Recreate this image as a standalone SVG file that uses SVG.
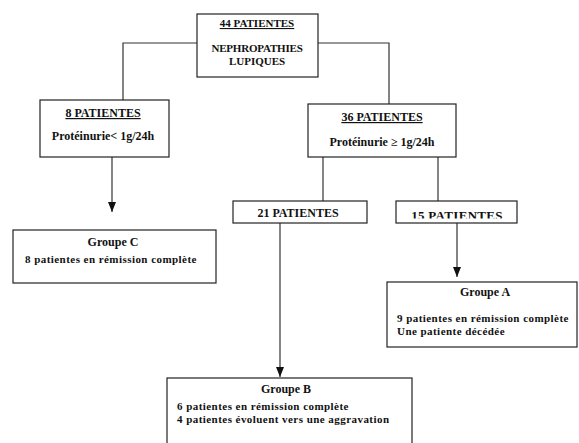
<svg xmlns="http://www.w3.org/2000/svg" width="579" height="443" viewBox="0 0 579 443">
<style>
.box{fill:#fff;stroke:#222;stroke-width:1.2}
.ln{fill:none;stroke:#333;stroke-width:1.2}
.t{font-family:'Liberation Serif','Times New Roman','DejaVu Serif',serif;font-weight:bold;font-size:12px;fill:#111}
.s{font-size:11px}
.d{font-size:11px;letter-spacing:0.45px}
.l{font-size:13px}
.c{text-anchor:middle}
.u{text-decoration:underline}
</style>
<defs>
<marker id="arr" markerWidth="10" markerHeight="8" refX="10" refY="4" orient="auto" markerUnits="userSpaceOnUse" viewBox="0 0 10 8">
<path d="M0,0 L10,4 L0,8 Z" fill="#111"/>
</marker>
<clipPath id="clip15"><rect x="396" y="201" width="121" height="17.5"/></clipPath>
</defs>
<rect width="579" height="443" fill="#fff"/>
<g id="connectors">
<path class="ln" d="M197,43 H123 V100"/>
<path class="ln" d="M318,43 H389 V104"/>
<path class="ln" d="M112,157 V212" marker-end="url(#arr)"/>
<path class="ln" d="M323,157 V201"/>
<path class="ln" d="M438,157 V201"/>
<path class="ln" d="M280,223 V377" marker-end="url(#arr)"/>
<path class="ln" d="M457,223 V277" marker-end="url(#arr)"/>
</g>
<g id="n44">
<rect class="box" x="197" y="14" width="121" height="63"/>
<text class="t s c u" x="257" y="27">44 PATIENTES</text>
<text class="t s c" x="257" y="52" letter-spacing="-0.2">NEPHROPATHIES</text>
<text class="t s c" x="257" y="64.5">LUPIQUES</text>
</g>
<g id="n8">
<rect class="box" x="40" y="100" width="129" height="57"/>
<text class="t c u" x="103" y="117">8 PATIENTES</text>
<text class="t c" x="103" y="140">Protéinurie&lt; 1g/24h</text>
</g>
<g id="n36">
<rect class="box" x="308" y="104" width="148" height="53"/>
<text class="t c u" x="382" y="121">36 PATIENTES</text>
<text class="t c" x="382" y="146">Protéinurie ≥ 1g/24h</text>
</g>
<g id="n21">
<rect class="box" x="233" y="201" width="134" height="22"/>
<text class="t c" x="298" y="217" font-size="12.5">21 PATIENTES</text>
</g>
<g id="n15">
<rect class="box" x="396" y="201" width="121" height="22"/>
<text class="t l c" x="457" y="220" letter-spacing="0.3" clip-path="url(#clip15)">15 PATIENTES</text>
</g>
<g id="groupeC">
<rect class="box" x="13" y="230" width="203" height="53"/>
<text class="t c" x="113" y="246">Groupe C</text>
<text class="t d" x="25" y="263">8 patientes en rémission complète</text>
</g>
<g id="groupeA">
<rect class="box" x="387" y="282" width="190" height="65"/>
<text class="t c" x="485" y="296">Groupe A</text>
<text class="t d" x="397" y="322">9 patientes en rémission complète</text>
<text class="t d" x="397" y="334.5">Une patiente décédée</text>
</g>
<g id="groupeB">
<rect class="box" x="167" y="378" width="245" height="80"/>
<text class="t c" x="286" y="393">Groupe B</text>
<text class="t d" x="177" y="410">6 patientes en rémission complète</text>
<text class="t d" x="177" y="422.5">4 patientes évoluent vers une aggravation</text>
</g>
</svg>
